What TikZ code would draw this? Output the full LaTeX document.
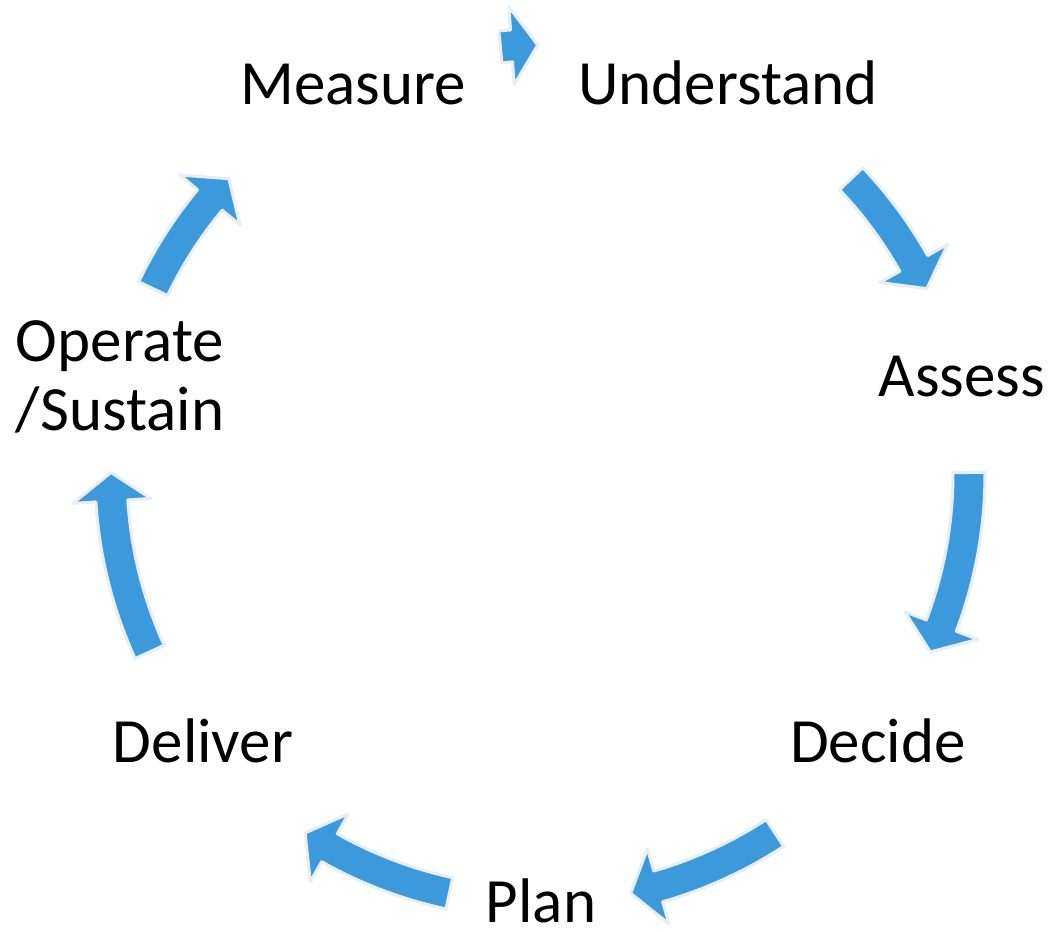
\documentclass[tikz,border=0pt]{standalone}
\usepackage{fontspec}
\setmainfont{Carlito}
\definecolor{arrowblue}{RGB}{60,154,220}
\definecolor{arrowedge}{RGB}{232,238,242}
\newcommand{\cyclearrow}[3]{%
  \draw[blockarrow] ([shift={(#1:445pt)}]ctr)
    arc[start angle=#1, end angle=#3, radius=445pt]
    -- ([shift={(#3:468pt)}]ctr)
    -- ([shift={(#2:429pt)}]ctr)
    -- ([shift={(#3:390pt)}]ctr)
    -- ([shift={(#3:413pt)}]ctr)
    arc[start angle=#3, end angle=#1, radius=413pt]
    -- cycle;}
\begin{document}
\begin{tikzpicture}[x=1pt,y=1pt,
  blockarrow/.style={fill=arrowblue, draw=arrowedge, line width=3pt, line join=round},
  label/.style={inner sep=0pt, anchor=base,
    font=\fontsize{63pt}{69pt}\selectfont},
  twoline/.style={label, align=center}]
\useasboundingbox (0,0) rectangle (1053,931);
\coordinate (ctr) at (540,457);
% labels
\node[label] (measure) at (353,826) {Measure};
\node[label] (understand) at (728,826) {Understand};
\node[label] (assess) at (962,534) {Assess};
\node[label] (decide) at (878,168) {Decide};
\node[label] (plan) at (541,8) {Plan};
\node[label] (deliver) at (203,168) {Deliver};
\node[twoline] (operate) at (120,500) {Operate\\/Sustain};
% arrows (tail angle, tip angle, head base angle)
\cyclearrow{95.3}{90.3}{93.8}
\cyclearrow{43.5}{25.6}{29.4}
\cyclearrow{0.2}{-24.5}{-20.7}
\cyclearrow{-56.8}{-77.8}{-74.0}
\cyclearrow{257.8}{236.8}{240.6}
\cyclearrow{204.5}{179.8}{183.6}
\cyclearrow{154.4}{136.5}{140.3}
\end{tikzpicture}
\end{document}
